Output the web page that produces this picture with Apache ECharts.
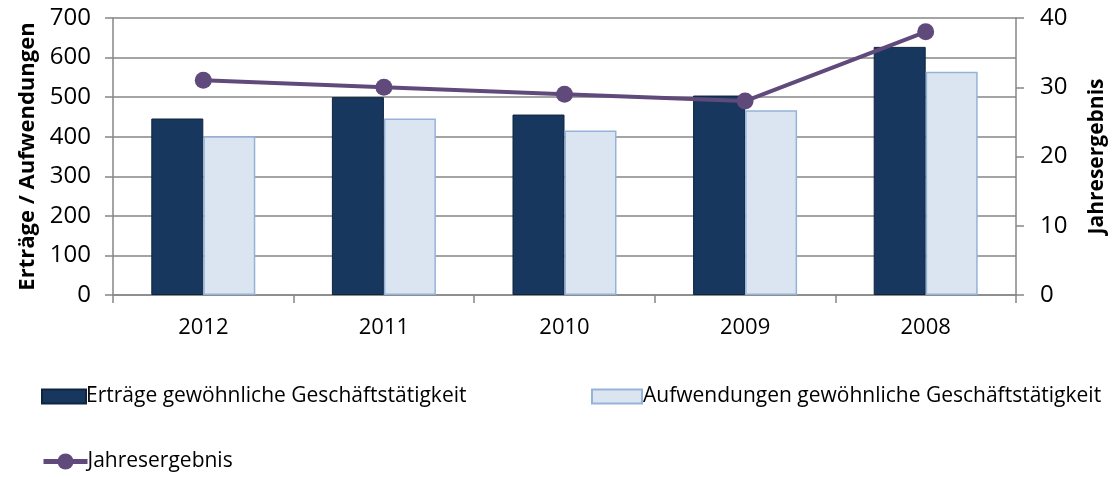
<!DOCTYPE html>
<html>
<head>
<meta charset="utf-8">
<script src="https://cdn.jsdelivr.net/npm/echarts@6/dist/echarts.min.js"></script>
<style>
html, body { margin: 0; padding: 0; background: #fff; }
#chart { width: 1113px; height: 477px; }
</style>
</head>
<body>
<div id="chart"></div>
<script>
// Daten
var years = ['2012', '2011', '2010', '2009', '2008'];
var ertraege = [446, 500, 456, 504, 627];
var aufwendungen = [401, 446, 416, 467, 564];
var jahresergebnis = [31, 30, 29, 28, 38];

var font = '"Open Sans", "Noto Sans", sans-serif';
var chart = echarts.init(document.getElementById('chart'));

chart.setOption({
  animation: false,
  textStyle: { fontFamily: font },
  grid: { left: 113, right: 97, top: 18, bottom: 182, outerBoundsMode: 'none' },
  legend: [
    {
      left: 36, top: 381, itemWidth: 44, itemHeight: 14, itemGap: 0, icon: 'rect',
      textStyle: { fontSize: 21, color: '#000', fontFamily: font, padding: [0, 0, 0, -5] },
      data: ['Erträge gewöhnliche Geschäftstätigkeit']
    },
    {
      left: 586, top: 381, itemWidth: 50, itemHeight: 14, itemGap: 0, icon: 'rect',
      textStyle: { fontSize: 21, color: '#000', fontFamily: font, padding: [0, 0, 0, -4] },
      data: ['Aufwendungen gewöhnliche Geschäftstätigkeit']
    },
    {
      left: 36, top: 446, itemWidth: 44, itemHeight: 20, itemGap: 0,
      lineStyle: { width: 5 },
      textStyle: { fontSize: 21, color: '#000', fontFamily: font, padding: [0, 0, 0, -5] },
      data: ['Jahresergebnis']
    }
  ],
  xAxis: {
    type: 'category',
    data: years,
    axisLine: { lineStyle: { color: '#868686', width: 1.5 } },
    axisTick: { show: true, length: 8, lineStyle: { color: '#868686', width: 1.5 } },
    axisLabel: { fontSize: 22, color: '#000', margin: 22 }
  },
  yAxis: [
    {
      type: 'value',
      min: 0, max: 700, interval: 100,
      name: 'Erträge / Aufwendungen',
      nameLocation: 'middle',
      nameGap: 71,
      nameTextStyle: { fontSize: 22, fontWeight: 'bold', color: '#000' },
      axisLine: { show: true, lineStyle: { color: '#868686', width: 1.5 } },
      axisTick: { show: true, length: 8, lineStyle: { color: '#868686', width: 1.5 } },
      axisLabel: { fontSize: 24, color: '#000', margin: 22 },
      splitLine: { lineStyle: { color: '#868686', width: 1.5 } }
    },
    {
      type: 'value',
      min: 0, max: 40, interval: 10,
      name: 'Jahresergebnis',
      nameLocation: 'middle',
      nameGap: 71,
      nameRotate: 90,
      nameTextStyle: { fontSize: 21, fontWeight: 'bold', color: '#000' },
      axisLine: { show: true, lineStyle: { color: '#868686', width: 1.5 } },
      axisTick: { show: true, length: 8, lineStyle: { color: '#868686', width: 1.5 } },
      axisLabel: { fontSize: 24, color: '#000', margin: 24 },
      splitLine: { show: false }
    }
  ],
  series: [
    {
      name: 'Erträge gewöhnliche Geschäftstätigkeit',
      type: 'bar',
      barWidth: 52,
      barGap: '0%',
      itemStyle: { color: '#17375E', borderColor: '#0F243E', borderWidth: 1 },
      data: ertraege
    },
    {
      name: 'Aufwendungen gewöhnliche Geschäftstätigkeit',
      type: 'bar',
      barWidth: 52,
      itemStyle: { color: '#DBE5F1', borderColor: '#95B3D7', borderWidth: 1.5 },
      data: aufwendungen
    },
    {
      name: 'Jahresergebnis',
      type: 'line',
      yAxisIndex: 1,
      symbol: 'circle',
      symbolSize: 17,
      lineStyle: { color: '#604A7B', width: 4 },
      itemStyle: { color: '#604A7B' },
      data: jahresergebnis
    }
  ]
});
</script>
</body>
</html>
